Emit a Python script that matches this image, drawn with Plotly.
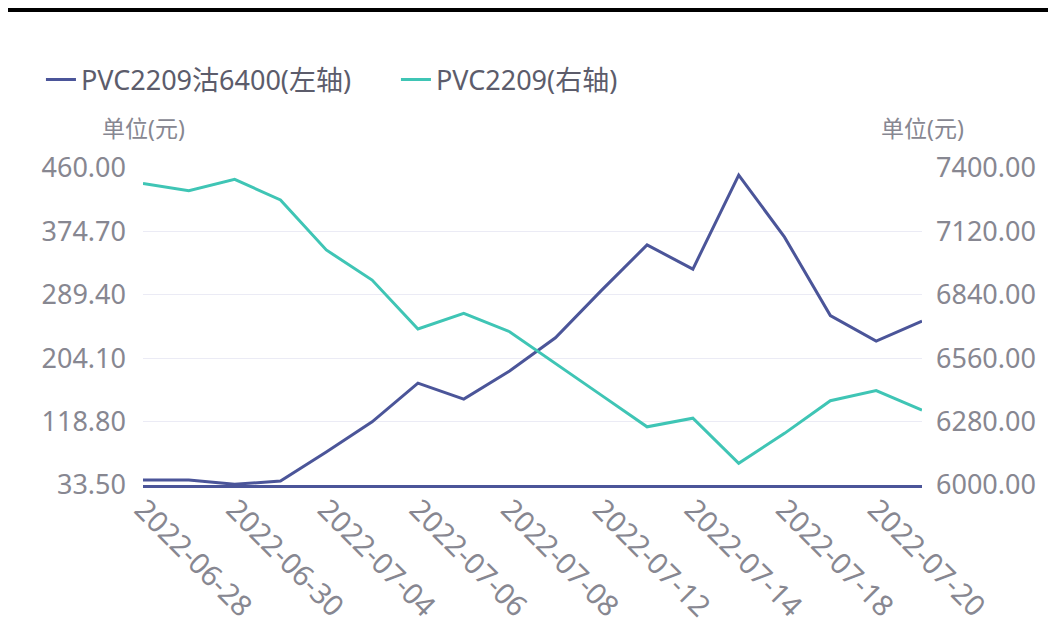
import plotly.graph_objects as go

dates = ["2022-06-28", "2022-06-29", "2022-06-30", "2022-07-01", "2022-07-04", "2022-07-05",
         "2022-07-06", "2022-07-07", "2022-07-08", "2022-07-11", "2022-07-12", "2022-07-13",
         "2022-07-14", "2022-07-15", "2022-07-18", "2022-07-19", "2022-07-20", "2022-07-21"]
put_6400 = [40.2, 40.2, 34.5, 38.9, 78.0, 118.5, 170.5, 149.0, 187.0, 231.5, 295.0, 356.5,
            324.0, 450.5, 367.0, 261.5, 227.0, 254.0]
pvc2209 = [7332, 7300, 7350, 7259, 7038, 6905, 6689, 6758, 6677, 6535, 6397, 6257,
           6295, 6096, 6228, 6372, 6417, 6331]
left_ticks = [33.5, 118.8, 204.1, 289.4, 374.7, 460.0]
right_ticks = [6000, 6280, 6560, 6840, 7120, 7400]
x_label_dates = dates[::2]

BLUE = "#4b5599"
TEAL = "#3fc5b5"
GRID = "#ebebf5"
TICK = "#878791"
FONT = "Noto Sans, Noto Sans CJK SC, sans-serif"

fig = go.Figure()
fig.add_trace(go.Scatter(x=dates, y=put_6400, mode="lines", name="PVC2209沽6400(左轴)",
                         line=dict(color=BLUE, width=3), yaxis="y"))
fig.add_trace(go.Scatter(x=dates, y=pvc2209, mode="lines", name="PVC2209(右轴)",
                         line=dict(color=TEAL, width=3), yaxis="y2"))

H = 317
fig.update_layout(
    width=1056, height=638,
    margin=dict(l=135, r=142, t=160, b=638 - 160 - H),
    paper_bgcolor="white", plot_bgcolor="white",
    font=dict(family=FONT, color=TICK),
    showlegend=True,
    legend=dict(orientation="h", x=-0.131, xanchor="left", y=1 + (168 - 80) / H, yanchor="middle",
                font=dict(size=27, color="#5c5c6b", family=FONT), itemwidth=30,
                entrywidth=310, entrywidthmode="pixels",
                bgcolor="rgba(0,0,0,0)", traceorder="normal"),
    xaxis=dict(type="category", categoryorder="array", categoryarray=dates,
               range=[0, len(dates) - 1], tickmode="array", tickvals=x_label_dates,
               ticktext=x_label_dates, tickangle=45, tickfont=dict(size=29, color=TICK),
               showgrid=False, showline=True, linecolor=BLUE, linewidth=3,
               ticks="", zeroline=False, ticklabelstandoff=-7),
    yaxis=dict(range=[left_ticks[0], left_ticks[-1]], tickmode="array", tickvals=left_ticks,
               ticktext=[f"{v:.2f}" for v in left_ticks], tickfont=dict(size=27, color=TICK),
               showgrid=True, gridcolor=GRID, gridwidth=1, zeroline=False, showline=False,
               ticklabelstandoff=16),
    yaxis2=dict(range=[right_ticks[0], right_ticks[-1]], tickmode="array", tickvals=right_ticks,
                ticktext=[f"{v:.2f}" for v in right_ticks], tickfont=dict(size=27, color=TICK),
                overlaying="y", side="right", showgrid=False, zeroline=False, showline=False,
                ticklabelstandoff=13),
    annotations=[
        dict(text="单位(元)", xref="paper", yref="paper", x=0.0, y=1 + (168 - 128) / H,
             xanchor="center", yanchor="middle", showarrow=False,
             font=dict(size=23, color=TICK, family=FONT)),
        dict(text="单位(元)", xref="paper", yref="paper", x=1.0, y=1 + (168 - 128) / H,
             xanchor="center", yanchor="middle", showarrow=False,
             font=dict(size=23, color=TICK, family=FONT)),
    ],
    shapes=[dict(type="line", xref="paper", yref="paper", x0=-0.2, x1=1.2,
                 y0=1 + (168 - 10) / H, y1=1 + (168 - 10) / H, line=dict(color="black", width=4))],
)

fig.write_html("out.html")
